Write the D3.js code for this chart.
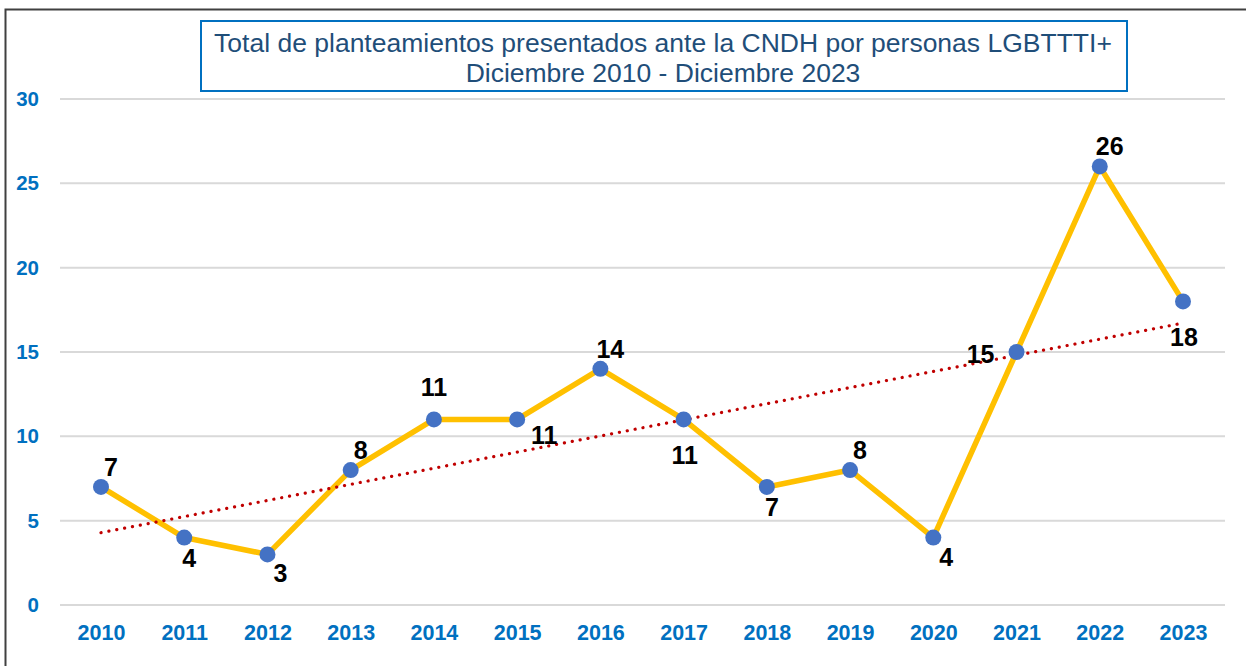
<!DOCTYPE html>
<html>
<head>
<meta charset="utf-8">
<script src="https://cdn.jsdelivr.net/npm/d3@7"></script>
<style>
  body { margin: 0; background: #fff; }
  svg { display: block; font-family: "Liberation Sans", Arial, sans-serif; }
</style>
</head>
<body>
<div id="chart"></div>
<script>
// data
const years = ["2010","2011","2012","2013","2014","2015","2016","2017","2018","2019","2020","2021","2022","2023"];
const values = [7, 4, 3, 8, 11, 11, 14, 11, 7, 8, 4, 15, 26, 18];
const yTicks = [0, 5, 10, 15, 20, 25, 30];
// where each data label sits relative to its point
const labelPos = ["tr","b","br","tr","t","r","tr","bb","b","tr","br","l","tr","bb"];
const titleLines = ["Total de planteamientos presentados ante la CNDH por personas LGBTTTI+", "Diciembre 2010 - Diciembre 2023"];

const W = 1246, H = 666;
const svg = d3.select("#chart").append("svg").attr("width", W).attr("height", H);

// outer frame
svg.append("rect").attr("x", 5.5).attr("y", 9.5).attr("width", W + 10).attr("height", H + 10)
  .attr("fill", "none").attr("stroke", "#404040").attr("stroke-width", 2);

const x = d3.scalePoint().domain(years).range([101, 1183]);
const y = d3.scaleLinear().domain([0, 30]).range([605, 99]);

// gridlines
svg.append("g").selectAll("line").data(yTicks).join("line")
  .attr("x1", 60).attr("x2", 1225)
  .attr("y1", d => y(d)).attr("y2", d => y(d))
  .attr("stroke", "#D9D9D9").attr("stroke-width", 2);

// y axis labels
const yAxis = svg.append("g").attr("transform", "translate(39,0)")
  .call(d3.axisLeft(y).tickValues(yTicks).tickSize(0).tickPadding(0));
yAxis.select(".domain").remove();
yAxis.selectAll("text").attr("fill", "#0070C0").attr("font-size", 20.5).attr("font-weight", "bold")
  .attr("font-family", "'Liberation Sans', Arial, sans-serif");

// x axis labels
const xAxis = svg.append("g").attr("transform", "translate(0,625)")
  .call(d3.axisBottom(x).tickSize(0).tickPadding(0));
xAxis.select(".domain").remove();
xAxis.selectAll("text").attr("fill", "#0070C0").attr("font-size", 21.5).attr("font-weight", "bold")
  .attr("font-family", "'Liberation Sans', Arial, sans-serif");

// main line
svg.append("path").datum(values)
  .attr("fill", "none").attr("stroke", "#FFC000").attr("stroke-width", 5.5)
  .attr("stroke-linejoin", "round")
  .attr("d", d3.line().x((d, i) => x(years[i])).y(d => y(d)));

// linear trendline
const n = values.length;
const mx = d3.mean(d3.range(n)), my = d3.mean(values);
const slope = d3.sum(values, (v, i) => (i - mx) * (v - my)) / d3.sum(d3.range(n), i => (i - mx) ** 2);
const icpt = my - slope * mx;
svg.append("line")
  .attr("x1", x(years[0])).attr("y1", y(icpt))
  .attr("x2", x(years[n - 1])).attr("y2", y(icpt + slope * (n - 1)))
  .attr("stroke", "#C00000").attr("stroke-width", 3.2)
  .attr("stroke-dasharray", "0.1 7.9").attr("stroke-linecap", "round");

// markers
svg.append("g").selectAll("circle").data(values).join("circle")
  .attr("cx", (d, i) => x(years[i])).attr("cy", d => y(d)).attr("r", 8)
  .attr("fill", "#4472C4");

// data labels
const off = { t: [0, -23], b: [5, 29], br: [13, 28], tr: [10, -11], r: [27, 25], bb: [1, 45], l: [-36, 11] };
svg.append("g").selectAll("text").data(values).join("text")
  .attr("x", (d, i) => x(years[i]) + off[labelPos[i]][0])
  .attr("y", (d, i) => y(d) + off[labelPos[i]][1])
  .attr("text-anchor", "middle")
  .attr("font-size", 25).attr("font-weight", "bold").attr("fill", "#000")
  .text(d => d);

// title box
svg.append("rect").attr("x", 201).attr("y", 21).attr("width", 926).attr("height", 70)
  .attr("fill", "#fff").attr("stroke", "#0070C0").attr("stroke-width", 2);
svg.append("g").selectAll("text").data(titleLines).join("text")
  .attr("x", 663).attr("y", (d, i) => 52 + i * 30)
  .attr("text-anchor", "middle").attr("font-size", 26.5).attr("fill", "#1F4E79")
  .text(d => d);
</script>
</body>
</html>
